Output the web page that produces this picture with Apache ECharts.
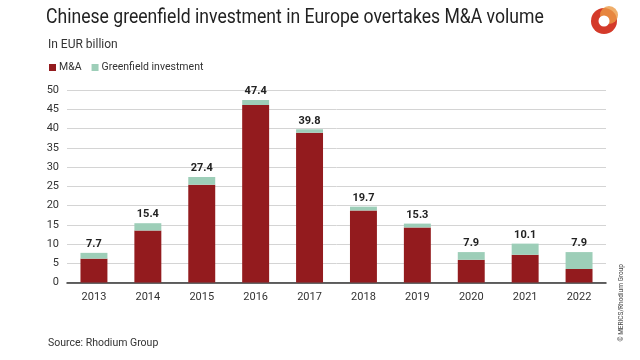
<!DOCTYPE html>
<html><head><meta charset="utf-8">
<script src="https://cdn.jsdelivr.net/npm/echarts@6/dist/echarts.min.js"></script>
<style>html,body{margin:0;padding:0;background:#fff}#c{width:640px;height:360px}</style>
</head><body><div id="c"></div>
<script>
var years = ['2013','2014','2015','2016','2017','2018','2019','2020','2021','2022'];
var mna = [6.2, 13.5, 25.4, 46.1, 38.9, 18.7, 14.3, 5.9, 7.2, 3.5];
var greenfield = [1.5, 1.9, 2.0, 1.3, 0.9, 1.0, 1.0, 2.0, 2.9, 4.4];
var totals = [7.7, 15.4, 27.4, 47.4, 39.8, 19.7, 15.3, 7.9, 10.1, 7.9];

var FONT = 'Roboto';
var chart = echarts.init(document.getElementById('c'));
chart.setOption({
  animation: false,
  textStyle: {fontFamily: FONT},
  title: [
    {text: 'In EUR billion', left: 43, top: 34,
     textStyle: {fontFamily: FONT, fontSize: 12, fontWeight: 'normal', color: '#333'}},
    {text: 'Source: Rhodium Group', left: 43, top: 333,
     textStyle: {fontFamily: FONT, fontSize: 10.5, fontWeight: 'normal', color: '#333'}}
  ],
  legend: {left: 44, top: 57, itemWidth: 7, itemHeight: 7, itemGap: 10, icon: 'rect',
    textStyle: {fontFamily: FONT, fontSize: 10.5, color: '#333', padding: [0,0,0,-2]},
    data: ['M&A', 'Greenfield investment']},
  grid: {left: 67, right: 34, top: 90, bottom: 77.5, containLabel: false},
  xAxis: {type: 'category', data: years,
    axisLine: {lineStyle: {color: '#333', width: 1.5}}, axisTick: {show: false},
    axisLabel: {color: '#333', fontSize: 11, margin: 9}},
  yAxis: {type: 'value', min: 0, max: 50, interval: 5,
    axisLine: {show: false}, axisTick: {show: false},
    axisLabel: {color: '#333', fontSize: 11, margin: 8, align: 'right'},
    splitLine: {lineStyle: {color: '#d4d4d4', width: 1}}},
  series: [
    {name: 'M&A', type: 'bar', stack: 't', data: mna, barWidth: '50%',
     itemStyle: {color: '#931b1e'}},
    {name: 'Greenfield investment', type: 'bar', stack: 't', data: greenfield,
     itemStyle: {color: '#9dceb8'},
     label: {show: true, position: 'top', distance: 3, fontSize: 11, fontWeight: 'bold', color: '#222',
       formatter: function(p){ return totals[p.dataIndex].toFixed(1); }}}
  ],
  graphic: [
    {type: 'text', x: 46, y: 8, scaleX: 0.88,
     style: {text: 'Chinese greenfield investment in Europe overtakes M&A volume', fontSize: 20,
       fill: '#222', fontFamily: FONT}},
    {type: 'text', left: 618, top: 264, rotation: Math.PI/2,
     style: {text: '© MERICS/Rhodium Group', fontSize: 6.5, fill: '#444', fontFamily: FONT}},
    {type: 'circle', shape: {cx: 604, cy: 21, r: 13}, style: {fill: '#d43a2a'}},
    {type: 'circle', shape: {cx: 609, cy: 15, r: 9}, style: {fill: '#eb9a45', opacity: 0.8}},
    {type: 'circle', shape: {cx: 604, cy: 21, r: 5.5}, style: {fill: '#fff'}}
  ]
});
</script></body></html>
